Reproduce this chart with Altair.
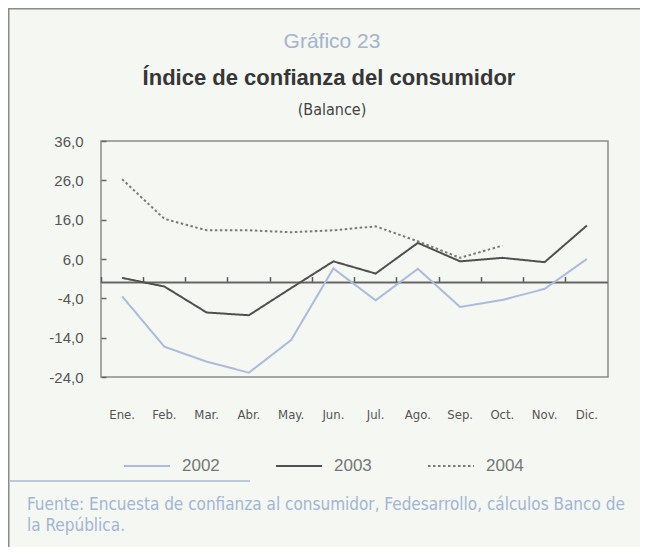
import altair as alt
import pandas as pd

months = ["Ene.", "Feb.", "Mar.", "Abr.", "May.", "Jun.", "Jul.", "Ago.", "Sep.", "Oct.", "Nov.", "Dic."]
v2002 = [-3.5, -16.3, -20.1, -22.9, -14.6, 3.6, -4.5, 3.5, -6.2, -4.4, -1.6, 6.0]
v2003 = [1.2, -1.0, -7.6, -8.3, -1.4, 5.4, 2.3, 10.1, 5.4, 6.3, 5.2, 14.5]
v2004 = [26.3, 16.2, 13.3, 13.3, 12.8, 13.3, 14.3, 10.5, 6.3, 9.4]
years = ["2002", "2003", "2004"]
y_ticks = [-24, -14, -4, 6, 16, 26, 36]

kicker = ["Gráfico 23"]
title = ["Índice de confianza del consumidor"]
subtitle = ["(Balance)"]
source = ["Fuente: Encuesta de confianza al consumidor, Fedesarrollo, cálculos Banco de", "la República."]

rows = []
for yr, vals in zip(years, [v2002, v2003, v2004]):
    for m, v in zip(months, vals):
        rows.append({"mes": m, "anio": yr, "valor": v})
df = pd.DataFrame(rows)

W, H = 507, 236
NARROW = "DejaVu Sans Condensed, Liberation Sans Narrow, Liberation Sans, sans-serif"
SANS = "Liberation Sans, Arial, sans-serif"

xscale = alt.Scale(type="band", paddingInner=0, paddingOuter=0)
yscale = alt.Scale(domain=[-24, 36], nice=False, zero=False)
zero_px = H * 36 / 60

lines = alt.Chart(df).mark_line(strokeWidth=2).encode(
    x=alt.X("mes:N", sort=months, scale=xscale,
            axis=alt.Axis(orient="bottom", title=None, domain=False, ticks=False, labelAngle=0,
                          labelPadding=31, labelFont=NARROW, labelFontSize=13,
                          labelColor="#555555", grid=False)),
    y=alt.Y("valor:Q", scale=yscale,
            axis=alt.Axis(orient="left", values=y_ticks, title=None, domain=False, ticks=False,
                          labelPadding=18, labelFont=SANS, labelFontSize=15,
                          labelColor="#555555", grid=False,
                          labelExpr="replace(replace(format(datum.value, '.1f'), '.', ','), '\u2212', '-')")),
    color=alt.Color("anio:N", scale=alt.Scale(domain=years, range=["#adbadb", "#505050", "#7a7a7a"]),
                    legend=alt.Legend(orient="none", legendX=22, legendY=301, direction="horizontal",
                                      title=None, symbolType="stroke", symbolSize=2116,
                                      symbolStrokeWidth=2, labelFont=SANS, labelFontSize=17,
                                      labelColor="#777777", labelOffset=11, columnPadding=52,
                                      padding=0)),
    strokeDash=alt.StrokeDash("anio:N", scale=alt.Scale(domain=years, range=[[1, 0], [1, 0], [2.5, 2.5]]),
                              legend=None),
    detail="anio:N",
)

guides = alt.Chart(df).mark_point(opacity=0).encode(
    x=alt.X("mes:N", sort=months, scale=xscale,
            axis=alt.Axis(orient="top", offset=-zero_px, title=None, labels=False, domain=False,
                          ticks=True, tickSize=6, tickWidth=1.5, tickColor="#5a5a5a",
                          bandPosition=0, grid=False)),
    y=alt.Y("valor:Q", scale=yscale,
            axis=alt.Axis(orient="right", offset=-W, values=y_ticks, title=None, labels=False,
                          domain=False, ticks=True, tickSize=5, tickWidth=1.5,
                          tickColor="#666666", grid=False)),
)

zero = alt.Chart(pd.DataFrame({"z": [0]})).mark_rule(color="#666666", strokeWidth=2).encode(
    y=alt.Y("z:Q", scale=yscale, axis=None))

def txt(data, x, y, size, color, font, weight="normal"):
    return alt.Chart(pd.DataFrame({"t": [data]})).mark_text(
        fontSize=size, color=color, font=font, fontWeight=weight, align="center", baseline="middle"
    ).encode(text="t:N", x=alt.value(x), y=alt.value(y))

t1 = txt(kicker[0], 231, -99, 21, "#a6b3c9", SANS)
t2 = txt(title[0], 228, -63, 22, "#363636", SANS, weight="bold")
t3 = txt(subtitle[0], 231, -31, 16, "#444444", NARROW)
foot = alt.Chart(pd.DataFrame({"t": [source]})).mark_text(
    fontSize=17, color="#a3b5d3", font=NARROW, align="left", baseline="middle", lineHeight=21
).encode(text="t", x=alt.value(-74), y=alt.value(364))

sep = alt.Chart(pd.DataFrame({"a": [0]})).mark_rule(color="#bcc8dc", strokeWidth=2).encode(
    x=alt.value(-91), x2=alt.value(149), y=alt.value(340))

frame_top = alt.Chart(pd.DataFrame({"a": [0]})).mark_rule(color="#8a8a8a", strokeWidth=1.5).encode(
    x=alt.value(-93), x2=alt.value(560), y=alt.value(-132.25))
frame_left = alt.Chart(pd.DataFrame({"a": [0]})).mark_rule(color="#8a8a8a", strokeWidth=1.5).encode(
    x=alt.value(-92.25), y=alt.value(-133), y2=alt.value(420))

chart = alt.layer(frame_top, frame_left, zero, guides, lines, t1, t2, t3, sep, foot).resolve_axis(
    x="independent", y="independent"
).properties(
    width=W, height=H,
    autosize=alt.AutoSizeParams(type="none"),
    padding={"left": 93, "top": 133, "right": 32, "bottom": 170},
    background="#f4f7f2",
).configure_view(stroke="#8c8c8c", strokeWidth=1.5)

chart.save("out.html", embed_options={"renderer": "svg", "actions": False})
